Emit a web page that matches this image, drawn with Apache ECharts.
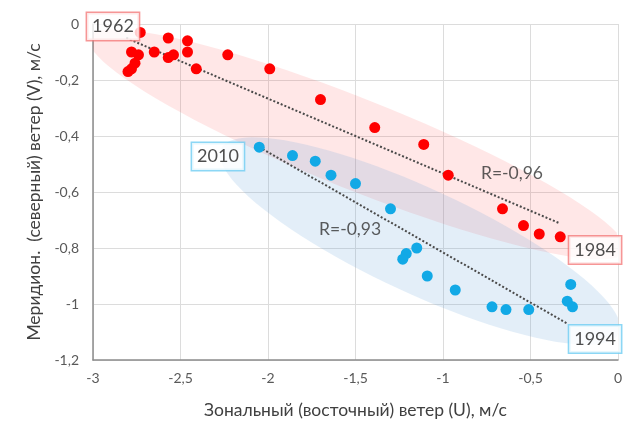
<!DOCTYPE html>
<html><head><meta charset="utf-8">
<script src="https://cdn.jsdelivr.net/npm/echarts@6/dist/echarts.min.js"></script>
<style>html,body{margin:0;padding:0;background:#fff}#c{width:628px;height:431px}</style>
</head><body><div id="c"></div>
<script>
// 1962–1984 (red)
const redU = [-2.73,-2.57,-2.46,-2.78,-2.74,-2.76,-2.80,-2.78,-2.65,-2.57,-2.54,-2.46,-2.41,-2.23,-1.99,-1.70,-1.39,-1.11,-0.97,-0.66,-0.54,-0.45,-0.33];
const redV = [-0.03,-0.05,-0.06,-0.10,-0.11,-0.14,-0.17,-0.16,-0.10,-0.12,-0.11,-0.10,-0.16,-0.11,-0.16,-0.27,-0.37,-0.43,-0.54,-0.66,-0.72,-0.75,-0.76];
// 1994–2010 (blue)
const blueU = [-2.05,-1.86,-1.73,-1.64,-1.50,-1.30,-1.21,-1.23,-1.15,-1.09,-0.93,-0.72,-0.64,-0.51,-0.27,-0.29,-0.26];
const blueV = [-0.44,-0.47,-0.49,-0.54,-0.57,-0.66,-0.82,-0.84,-0.80,-0.90,-0.95,-1.01,-1.02,-1.02,-0.93,-0.99,-1.01];
// trend line end points
const redTrendU = [-2.81,-0.34];
const redTrendV = [-0.05,-0.71];
const blueTrendU = [-2.05,-0.29];
const blueTrendV = [-0.44,-1.07];
// ellipses: centre U,V ; semi-axis 1 (dU,dV) ; semi-axis 2 (dU,dV)
const redEllipse = [-1.49,-0.43, 1.531,-0.382, -0.095,-0.150];
const blueEllipse = [-1.131,-0.775, 1.137,-0.329, -0.125,-0.170];
// annotations
const yearText = ['1962','1984','2010','1994'];
const yearU = [-2.886,-0.131,-2.286,-0.131];
const yearV = [-0.009,-0.807,-0.473,-1.125];
const rText = ['R=-0,96','R=-0,93'];
const rU = [-0.606,-1.531];
const rV = [-0.532,-0.732];

const FONT = 'Lato';
const chart = echarts.init(document.getElementById('c'));
const zip = (a,b) => a.map((v,i)=>[v,b[i]]);
function ellipseRender(fill){
  return function(params, api){
    const v = [0,1,2,3,4,5].map(i=>api.value(i));
    const pts = [];
    for (let i=0;i<96;i++){
      const t = i/96*2*Math.PI;
      pts.push(api.coord([v[0]+v[2]*Math.cos(t)+v[4]*Math.sin(t), v[1]+v[3]*Math.cos(t)+v[5]*Math.sin(t)]));
    }
    const cs = params.coordSys;
    return {type:'polygon', shape:{points: echarts.graphic.clipPointsByRect(pts, {x:cs.x,y:cs.y,width:cs.width,height:cs.height})}, style:{fill: fill}};
  };
}
const fmt = v => String(v).replace('.', ',');
chart.setOption({
  animation:false,
  grid:{left:93, right:10, top:24, bottom:71},
  xAxis:{type:'value', min:-3, max:0, interval:0.5,
    name:'Зональный (восточный) ветер (U), м/с', nameLocation:'middle', nameGap:41,
    nameTextStyle:{fontFamily:FONT, fontSize:17.5, color:'#404040'},
    axisLine:{show:true, onZero:false, lineStyle:{color:'#8c8c8c', width:1.5}},
    axisTick:{show:false},
    axisLabel:{formatter:fmt, fontFamily:FONT, fontSize:14, color:'#595959', margin:11},
    splitLine:{lineStyle:{color:'#dcdcdc'}}},
  yAxis:{type:'value', min:-1.2, max:0, interval:0.2,
    name:'Меридион.  (северный) ветер (V), м/с', nameLocation:'middle', nameGap:49,
    nameTextStyle:{fontFamily:FONT, fontSize:17.5, color:'#404040'},
    axisLine:{show:true, onZero:false, lineStyle:{color:'#8c8c8c', width:1.5}},
    axisTick:{show:false},
    axisLabel:{formatter:v=>fmt(Math.round(v*10)/10), fontFamily:FONT, fontSize:14, color:'#595959', margin:14},
    splitLine:{lineStyle:{color:'#dcdcdc'}}},
  series:[
    {type:'custom', renderItem:ellipseRender('rgba(255,60,60,0.12)'), data:[redEllipse], z:1, silent:true},
    {type:'custom', renderItem:ellipseRender('rgba(91,155,213,0.17)'), data:[blueEllipse], z:1, silent:true},
    {type:'line', data:zip(redTrendU, redTrendV), symbol:'none', lineStyle:{color:'#4a4a4a', width:2, type:[2,2]}, z:3},
    {type:'line', data:zip(blueTrendU, blueTrendV), symbol:'none', lineStyle:{color:'#4a4a4a', width:2, type:[2,2]}, z:3},
    {type:'scatter', data:zip(redU, redV), symbolSize:11, itemStyle:{color:'#ff0000', opacity:1}, z:4},
    {type:'scatter', data:zip(blueU, blueV), symbolSize:11, itemStyle:{color:'#12a9e6', opacity:1}, z:4},
    {type:'scatter', z:5, symbolSize:1, itemStyle:{color:'rgba(0,0,0,0)'},
      data: yearText.map((t,i)=>({value:[yearU[i], yearV[i]], name:t,
        label:{borderColor: i<2 ? '#f47c7c' : '#6fcdf2'}})),
      label:{show:true, position:'inside', formatter:p=>p.name, fontFamily:FONT, fontSize:18, color:'#222222',
        backgroundColor:'#ffffff', borderWidth:1.5, padding:[5,5,4,5]}},
    {type:'scatter', z:5, symbolSize:1, itemStyle:{color:'rgba(0,0,0,0)'},
      data: rText.map((t,i)=>({value:[rU[i], rV[i]], name:t})),
      label:{show:true, position:'inside', formatter:p=>p.name, fontFamily:FONT, fontSize:17.5, color:'#333333'}}
  ]
});
</script></body></html>
